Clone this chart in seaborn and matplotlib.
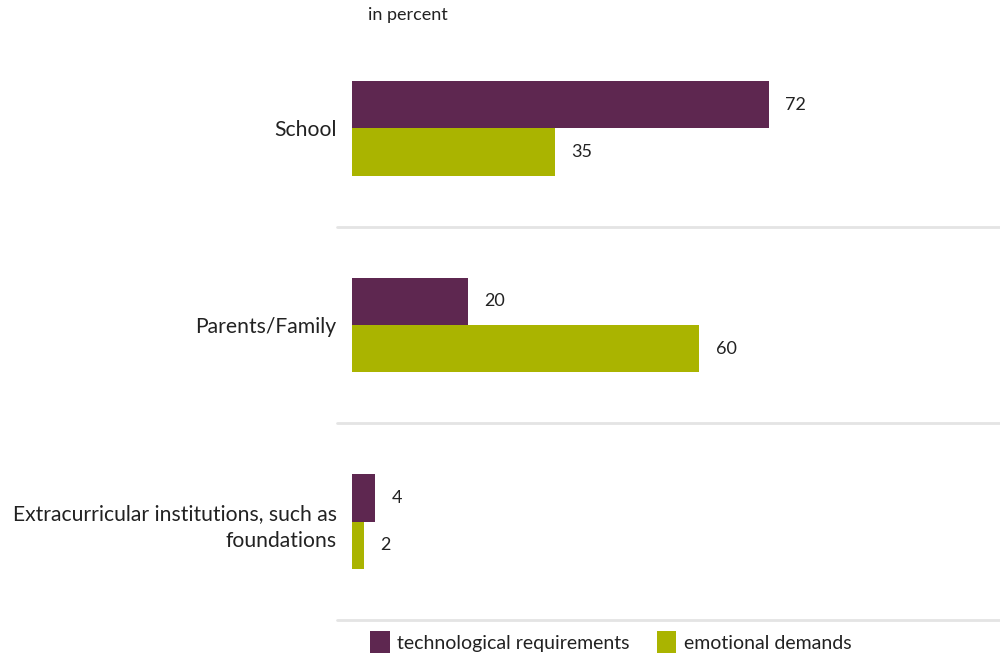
import pandas as pd
import matplotlib
matplotlib.use("Agg")
import matplotlib.pyplot as plt
import seaborn as sns

# --- data ---
categories = ["School", "Parents/Family", "Extracurricular institutions, such as\nfoundations"]
series_names = ["technological requirements", "emotional demands"]
tech_values = [72, 20, 4]
emotional_values = [35, 60, 2]

purple = "#5e2750"
green = "#aab400"

df = pd.DataFrame({
    "category": categories * 2,
    "series": [series_names[0]] * 3 + [series_names[1]] * 3,
    "value": tech_values + emotional_values,
})

sns.set_theme(style="white")
plt.rcParams["font.family"] = ["Lato", "DejaVu Sans"]

fig = plt.figure(figsize=(10, 6.55), dpi=100)
ax = fig.add_axes([0.352, 35 / 655, 0.648, 590 / 655])

sns.barplot(data=df, y="category", x="value", hue="series", orient="h",
            palette=[purple, green], width=0.48, dodge=True, ax=ax,
            saturation=1, legend=True, linewidth=0)

ax.set_xlim(0, 112)
ax.set_ylim(2.5, -0.5)
for c in ax.containers:
    ax.bar_label(c, padding=12, fontsize=13, color="#222222")

# separators between categories
for y in [0.5, 1.5, 2.5]:
    ax.axhline(y, xmin=-0.023, xmax=1, color="#e4e4e4", lw=2, clip_on=False, zorder=0)

ax.set_xlabel("")
ax.set_ylabel("")
ax.set_xticks([])
ax.tick_params(axis="y", length=0, pad=11, labelsize=15.2, labelcolor="#222222")
for lab in ax.get_yticklabels():
    lab.set_linespacing(1.45)
for s in ax.spines.values():
    s.set_visible(False)

fig.text(0.368, 1 - 15 / 655, "in percent", fontsize=13, color="#222222", va="center")

handles, labels = ax.get_legend_handles_labels()
ax.legend_.remove()
fig.legend(handles, labels, loc="center", bbox_to_anchor=(0.611, 13 / 655), ncol=2,
           frameon=False, fontsize=14, handlelength=1.0, handleheight=1.3,
           handletextpad=0.4, columnspacing=1.4, labelcolor="#222222")

fig.savefig("out.png", dpi=100)
